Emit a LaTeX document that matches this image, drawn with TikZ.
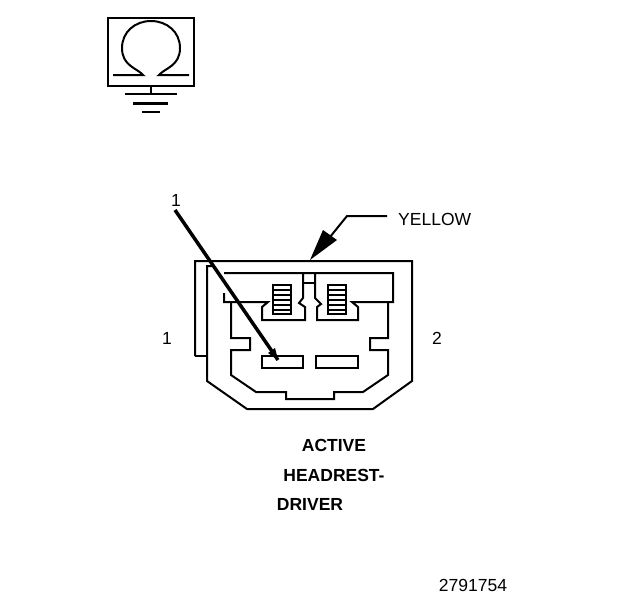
\documentclass[tikz,border=0pt]{standalone}
\usepackage{fontspec}
\setmainfont{Liberation Sans}
\tikzset{
  outline/.style={draw,line width=2pt,line join=miter},
  label/.style={inner sep=0pt,font=\fontsize{17.5}{20}\selectfont},
  title/.style={inner sep=0pt,font=\bfseries\fontsize{17.5}{20}\selectfont}
}

\begin{document}
\begin{tikzpicture}[x=1pt,y=-1pt]
      \useasboundingbox (0,0) rectangle (624,600);
      % ground symbol
      \draw[outline] (108,18) rectangle (194,86);
      \draw[outline] (113,75) -- (143,75) .. controls (137,68) and (122,66) .. (122,48)
        .. controls (122,32) and (135,21) .. (151,21)
        .. controls (167,21) and (180,32) .. (180,48)
        .. controls (180,66) and (165,68) .. (159,75) -- (189,75);
      \coordinate (gndtop) at (151,86);
      \coordinate (gndbar) at (151,94);
      \draw[outline] (gndtop) -- (gndbar);
      \draw[outline] (125,94) -- (177,94);
      \draw[line width=3pt] (133,103) -- (168,103);
      \draw[outline] (142,112) -- (160,112);
      % connector body
      \draw[outline] (195,356) -- (207,356);
      \draw[outline] (195,356) -- (195,261) -- (412,261) -- (412,381) -- (373,409) -- (247,409)
        -- (207,381) -- (207,266) -- (212,266);
      % cavity
      \draw[outline] (224,273) -- (393,273) -- (393,302) -- (352,302) -- (358,307)
        -- (358,320) -- (317,320) -- (317,307) -- (321,304) -- (315,298)
        -- (315,273) (303,273) -- (303,298) -- (299,303) -- (305,307)
        -- (305,320) -- (262,320) -- (262,307) -- (268,302) -- (231,302) -- (224,302) -- (224,293);
      \draw[outline] (303,283) -- (315,283);
      \draw[outline] (231,302) -- (231,338) -- (250,338) -- (250,350) -- (231,350) -- (231,375)
        -- (256,392) -- (286,392) -- (286,399) -- (334,399) -- (334,392) -- (363,392)
        -- (388,375) -- (388,350) -- (370,350) -- (370,338) -- (388,338) -- (388,302);
      % terminals
      \draw[outline] (262,356) rectangle (303,368);
      \draw[outline] (316,356) rectangle (358,368);
      \foreach \x in {273,328} {
        \draw[outline] (\x,285) rectangle (\x+18,314);
        \foreach \y in {290,295,300,305,310}
          \draw[line width=1.5pt] (\x,\y) -- (\x+18,\y);
      }
      % labels
      \node[label] (num) at (176,200) {1};
      \node[label] (pinone) at (167,338) {1};
      \node[label] (pintwo) at (437,338) {2};
      \node[label,anchor=west] (yellow) at (398,219) {YELLOW};
      \node[title] (active) at (334,445) {ACTIVE};
      \node[title] (headrest) at (334,475) {HEADREST-};
      \node[title] (driver) at (310,504) {DRIVER};
      \node[label] (partno) at (473,585) {2791754};
      % leaders
      \coordinate (numtip) at (278,360);
      \coordinate (numtail) at (175,210);
      \draw[line width=3.5pt] (numtail) -- (numtip);
      \fill (numtip) -- (268,353) -- (275,348) -- cycle;
      \coordinate (yeltip) at (310,260);
      \coordinate (yelknee) at (347,216);
      \coordinate (yelend) at (387,216);
      \draw[line width=2pt] (yelend) -- (yelknee) -- (330,237);
      \fill (yeltip) -- (323,230) -- (337,240) -- cycle;
\end{tikzpicture}
\end{document}
